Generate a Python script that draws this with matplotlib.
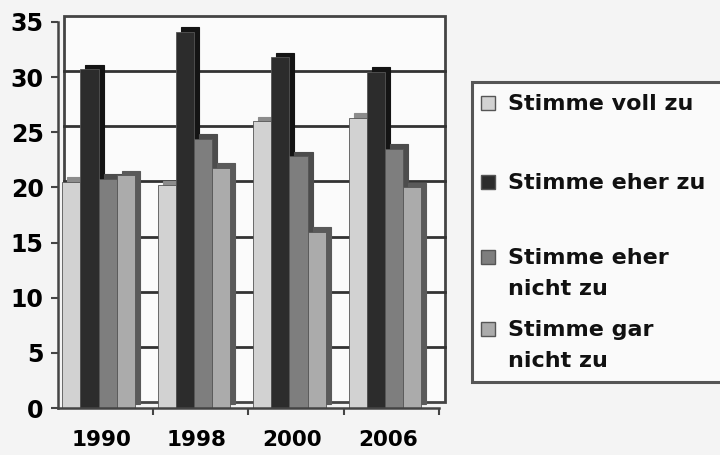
import matplotlib.pyplot as plt
import matplotlib.transforms as mtransforms
from matplotlib.patches import Rectangle
import numpy as np

plt.rcParams['font.family'] = ['DejaVu Sans']

years = ['1990', '1998', '2000', '2006']
labels = ['Stimme voll zu', 'Stimme eher zu', 'Stimme eher\nnicht zu', 'Stimme gar\nnicht zu']
voll = [20.5, 20.2, 26.0, 26.3]
eher = [30.7, 34.1, 31.8, 30.5]
eher_nicht = [20.8, 24.4, 22.8, 23.5]
gar_nicht = [21.1, 21.8, 16.0, 20.0]
yticks = [0, 5, 10, 15, 20, 25, 30, 35]

series = [voll, eher, eher_nicht, gar_nicht]
front = ['#d2d2d2', '#2c2c2c', '#7e7e7e', '#ababab']
side = ['#8c8c8c', '#141414', '#4c4c4c', '#5a5a5a']

W, H = 720, 455
fig = plt.figure(figsize=(7.2, 4.55), dpi=100, facecolor='#f4f4f4')
ax = fig.add_axes([0.080, 0.103, 0.530, 0.849])
ax.set_facecolor('none')
ax.set_xlim(-0.5, 3.5)
ax.set_ylim(0, 35)

# back wall offset for the fake 3d look
back = ax.transData + mtransforms.ScaledTranslation(0.06, 0.06, fig.dpi_scale_trans)
depth = ax.transData + mtransforms.ScaledTranslation(0.05, 0.045, fig.dpi_scale_trans)

ax.add_patch(Rectangle((-0.5, 0), 4, 35, transform=back, facecolor='#fbfbfb',
                       edgecolor='#444444', lw=2, zorder=0, clip_on=False))
for v in yticks[1:-1]:
    ax.plot([-0.5, 3.5], [v, v], color='#333333', lw=2, transform=back,
            zorder=1, clip_on=False)

x = np.arange(len(years))
w = 0.19
for j, vals in enumerate(series):
    pos = x + (j - 1.5) * w - 0.07
    ax.bar(pos, vals, w, color=side[j], edgecolor=side[j], lw=0.8,
           transform=depth, zorder=2 + j * 0.1, clip_on=False)
    ax.bar(pos, vals, w, color=front[j], edgecolor='#555555', lw=0.6,
           zorder=2.05 + j * 0.1)

for s in ['top', 'right']:
    ax.spines[s].set_visible(False)
for s in ['left', 'bottom']:
    ax.spines[s].set_color('#444444')
    ax.spines[s].set_linewidth(1.8)

ax.set_yticks(yticks)
ax.set_yticklabels([str(t) for t in yticks], fontsize=17, fontweight='bold')
ax.tick_params(axis='y', length=5, width=1.5, color='#444444', pad=5)
ax.set_xticks(x - 0.04)
ax.set_xticklabels(years, fontsize=15.5, fontweight='bold')
ax.tick_params(axis='x', length=0, pad=16)
ax.set_xticks([0.5, 1.5, 2.5, 3.5], minor=True)
ax.tick_params(axis='x', which='minor', length=5, width=1.5, color='#444444')

# legend drawn by hand (Excel spaces the entries unevenly)
fig.patches.append(Rectangle((472 / W, 1 - 382 / H), 270 / W, 300 / H,
                             transform=fig.transFigure, facecolor='#fafafa',
                             edgecolor='#555555', lw=2.2))
entry_y = [103, 182, 257, 329]
for j, lab in enumerate(labels):
    cy = entry_y[j]
    fig.patches.append(Rectangle((481 / W, 1 - (cy + 7) / H), 14 / W, 14 / H,
                                 transform=fig.transFigure, facecolor=front[j],
                                 edgecolor='#555555', lw=1))
    fig.text(508 / W, 1 - (cy - 9) / H, lab, fontsize=16, fontweight='bold',
             va='top', ha='left', linespacing=1.7, color='#111111')

fig.savefig('out.png', dpi=100, facecolor=fig.get_facecolor())
